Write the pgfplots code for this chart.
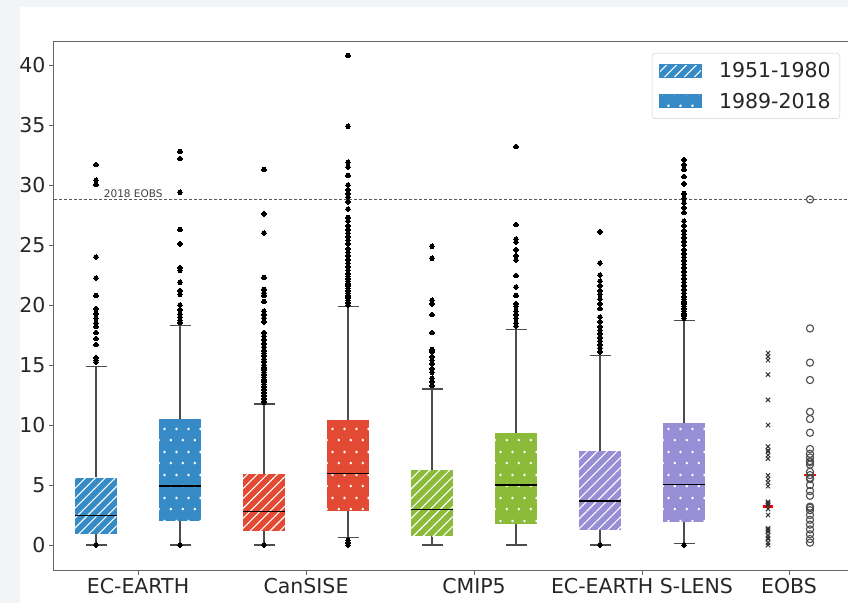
\documentclass[border=0pt]{standalone}
\usepackage{pgfplots}
\pgfplotsset{compat=1.18}
\usepgfplotslibrary{statistics}
\usetikzlibrary{patterns,patterns.meta}
\usepackage{fontspec}
\setmainfont{DejaVu Sans}
\definecolor{cblue}{RGB}{54,139,199}
\definecolor{cred}{RGB}{226,74,51}
\definecolor{cgreen}{RGB}{140,186,57}
\definecolor{cpurple}{RGB}{152,142,213}
\definecolor{bggray}{RGB}{243,244,246}
\definecolor{txt}{RGB}{38,38,38}
\pgfdeclarepatternformonly{mydots}{\pgfpointorigin}{\pgfqpoint{12pt}{23pt}}{\pgfqpoint{12pt}{23pt}}{%
  \pgfpathcircle{\pgfqpoint{3pt}{3pt}}{1.5pt}%
  \pgfpathcircle{\pgfqpoint{9pt}{14.5pt}}{1.5pt}%
  \pgfusepath{fill}}
\tikzset{
  hatchfill/.style={fill=#1, draw=none, postaction={pattern={Lines[angle=45,distance=7pt,line width=1.1pt]}, pattern color=white}},
  dotfill/.style={fill=#1, draw=none, postaction={pattern=mydots, pattern color=white}},
}
\pgfplotsset{
  boxplot/draw direction=y,
  mybox/.style 2 args={
    draw=none, line width=1pt, solid,
    mark=*, mark size=2.3pt, mark options={fill=black, draw=black, line width=0pt},
    boxplot/every box/.style={#1=#2},
    boxplot/every whisker/.style={draw=black!70, line width=1.1pt},
    boxplot/every median/.style={draw=black, line width=1.6pt},
  },
}
\begin{document}
\begin{tikzpicture}[x=1pt,y=1pt]
\useasboundingbox (0,0) rectangle (848,603);
\clip (0,0) rectangle (848,603);
\fill[bggray] (0,0) rectangle (20,603);
\fill[bggray] (0,596) rectangle (848,603);
\begin{axis}[
  at={(54pt,33pt)}, anchor=south west, scale only axis,
  width=798pt, height=528pt,
  xmin=0.5, xmax=10, ymin=-2.08, ymax=41.92,
  ytick={0,5,...,40},
  xtick={1.5,3.5,5.5,7.5,9.25},
  xticklabels={EC-EARTH,CanSISE,CMIP5,EC-EARTH S-LENS,EOBS},
  xtick pos=bottom, ytick pos=left,
  tick align=outside, major tick length=5pt,
  tick style={black!60, line width=0.8pt},
  axis line style={black!60, line width=1pt},
  ticklabel style={font=\fontsize{20.5}{24}\selectfont, text=txt},
  /pgf/number format/assume math mode=true,
  legend style={at={(1,1)}, anchor=north east, xshift=-12pt, yshift=-11pt,
    draw=black!20, rounded corners=3pt, font=\fontsize{20.5}{24}\selectfont, text=txt,
    inner xsep=7pt, inner ysep=7pt, row sep=10pt, column sep=16pt},
  legend cell align=left,
  clip=false,
]
\addlegendimage{legend image code/.code={\path[sharp corners, hatchfill=cblue, draw=cblue, line width=0pt] (0pt,-6.5pt) rectangle (42pt,6.5pt);}}
\addlegendentry{1951-1980}
\addlegendimage{legend image code/.code={\path[sharp corners, dotfill=cblue, draw=cblue, line width=0pt] (0pt,-6.5pt) rectangle (42pt,6.5pt);}}
\addlegendentry{1989-2018}

\addplot[dashed, black!65, line width=1pt, dash pattern=on 3pt off 2pt, forget plot] coordinates {(0.5,28.8) (10,28.8)};
\node[anchor=south west, inner sep=1pt, font=\fontsize{10.5}{12}\selectfont, text=black!75] at (axis cs:1.08,28.85) {2018 EOBS};

% EC-EARTH
\addplot[mybox={hatchfill}{cblue}, boxplot prepared={draw position=1, lower whisker=0, lower quartile=0.9, median=2.45, upper quartile=5.6, upper whisker=14.85, box extend=0.5, whisker extend=0.25}, forget plot]
 table[row sep=\\, y index=0]{0\\15.25\\15.4\\15.6\\16.7\\17.2\\17.7\\18.2\\18.5\\18.9\\19.3\\19.7\\20.8\\22.25\\24.0\\30.06\\30.4\\31.7\\};
\addplot[mybox={dotfill}{cblue}, boxplot prepared={draw position=2, lower whisker=0, lower quartile=2.0, median=4.92, upper quartile=10.47, upper whisker=18.33, box extend=0.5, whisker extend=0.25}, forget plot]
 table[row sep=\\, y index=0]{0\\18.55\\18.75\\19.0\\19.25\\19.6\\20.0\\20.9\\21.2\\21.9\\22.9\\23.1\\25.1\\26.3\\29.4\\32.2\\32.8\\};
% CanSISE
\addplot[mybox={hatchfill}{cred}, boxplot prepared={draw position=3, lower whisker=0, lower quartile=1.17, median=2.78, upper quartile=5.89, upper whisker=11.75, box extend=0.5, whisker extend=0.25}, forget plot]
 table[row sep=\\, y index=0]{0\\11.9\\12.0\\12.2\\12.4\\12.5\\12.7\\12.9\\13.0\\13.2\\13.4\\13.6\\13.8\\14.0\\14.2\\14.4\\14.6\\14.8\\15.0\\15.3\\15.5\\15.8\\16.0\\16.2\\16.5\\16.8\\17.1\\17.4\\17.7\\18.6\\18.9\\19.2\\19.5\\20.3\\20.8\\21.0\\21.3\\22.3\\26.0\\27.6\\31.3\\};
\addplot[mybox={dotfill}{cred}, boxplot prepared={draw position=4, lower whisker=0.6, lower quartile=2.86, median=5.97, upper quartile=10.4, upper whisker=19.86, box extend=0.5, whisker extend=0.25}, forget plot]
 table[row sep=\\, y index=0]{0\\0.2\\0.4\\20.0\\20.2\\20.4\\20.6\\20.8\\21.0\\21.2\\21.4\\21.6\\21.8\\22.0\\22.2\\22.4\\22.6\\22.9\\23.2\\23.5\\23.8\\24.1\\24.4\\24.7\\25.1\\25.4\\25.7\\26.0\\26.3\\26.6\\27.0\\27.3\\28.0\\28.6\\29.0\\29.3\\29.6\\30.0\\30.8\\31.5\\31.9\\34.9\\40.8\\};
% CMIP5
\addplot[mybox={hatchfill}{cgreen}, boxplot prepared={draw position=5, lower whisker=0, lower quartile=0.75, median=2.97, upper quartile=6.25, upper whisker=13.0, box extend=0.5, whisker extend=0.25}, forget plot]
 table[row sep=\\, y index=0]{13.3\\13.6\\13.9\\14.4\\14.7\\15.1\\15.4\\15.7\\16.1\\16.3\\17.7\\19.2\\20.1\\20.4\\23.9\\24.9\\};
\addplot[mybox={dotfill}{cgreen}, boxplot prepared={draw position=6, lower whisker=0, lower quartile=1.75, median=5.0, upper quartile=9.36, upper whisker=17.97, box extend=0.5, whisker extend=0.25}, forget plot]
 table[row sep=\\, y index=0]{18.25\\18.5\\18.9\\19.2\\19.5\\19.9\\20.1\\20.8\\21.5\\22.45\\23.75\\24.1\\24.6\\25.25\\25.5\\26.7\\33.2\\};
% EC-EARTH S-LENS
\addplot[mybox={hatchfill}{cpurple}, boxplot prepared={draw position=7, lower whisker=0, lower quartile=1.25, median=3.67, upper quartile=7.83, upper whisker=15.83, box extend=0.5, whisker extend=0.25}, forget plot]
 table[row sep=\\, y index=0]{0\\16.1\\16.4\\16.7\\17.0\\17.3\\17.6\\17.9\\18.2\\18.6\\19.0\\19.7\\20.1\\20.5\\20.9\\21.2\\21.6\\22.0\\22.5\\23.5\\26.1\\};
\addplot[mybox={dotfill}{cpurple}, boxplot prepared={draw position=8, lower whisker=0.14, lower quartile=1.95, median=5.05, upper quartile=10.2, upper whisker=18.7, box extend=0.5, whisker extend=0.25}, forget plot]
 table[row sep=\\, y index=0]{0\\18.9\\19.1\\19.3\\19.5\\19.7\\19.9\\20.1\\20.3\\20.5\\20.7\\21.0\\21.3\\21.6\\21.9\\22.2\\22.5\\22.8\\23.1\\23.4\\23.7\\24.0\\24.3\\24.6\\25.0\\25.3\\25.6\\25.9\\26.2\\26.6\\27.0\\27.7\\28.1\\28.5\\28.9\\29.3\\30.1\\30.7\\31.3\\31.7\\32.1\\};
% EOBS
\addplot[only marks, mark=x, mark size=3pt, mark options={draw=black!80, line width=1pt}, forget plot] coordinates {
 (9,16.0) (9,15.7) (9,15.4) (9,14.2) (9,12.1) (9,10.0) (9,8.2) (9,7.8) (9,7.5) (9,7.2)
 (9,5.8) (9,5.5) (9,5.2) (9,4.9) (9,3.6) (9,3.4) (9,3.3) (9,3.0) (9,2.5) (9,1.4)
 (9,1.2) (9,1.1) (9,0.8) (9,0.5) (9,0.2) (9,3.5) (9,7.9) (9,1.3) (9,0.6) (9,0.0)};
\addplot[only marks, mark=o, mark size=3.6pt, mark options={draw=black!70, line width=1.1pt}, forget plot] coordinates {
 (9.5,28.8) (9.5,18.05) (9.5,15.2) (9.5,13.75) (9.5,11.1) (9.5,10.5) (9.5,9.36) (9.5,8.0) (9.5,7.6) (9.5,7.3)
 (9.5,7.0) (9.5,6.7) (9.5,5.5) (9.5,5.0) (9.5,4.5) (9.5,4.1) (9.5,3.2) (9.5,2.9) (9.5,2.5) (9.5,2.1)
 (9.5,1.7) (9.5,1.3) (9.5,0.9) (9.5,0.5) (9.5,0.2) (9.5,6.1) (9.5,5.83) (9.5,3.1) (9.5,6.9) (9.5,5.6)};
\addplot[red, line width=2.8pt, forget plot] coordinates {(8.935,3.2) (9.065,3.2)};
\addplot[red, line width=2.8pt, forget plot] coordinates {(9.43,5.83) (9.57,5.83)};
\end{axis}
\end{tikzpicture}
\end{document}
